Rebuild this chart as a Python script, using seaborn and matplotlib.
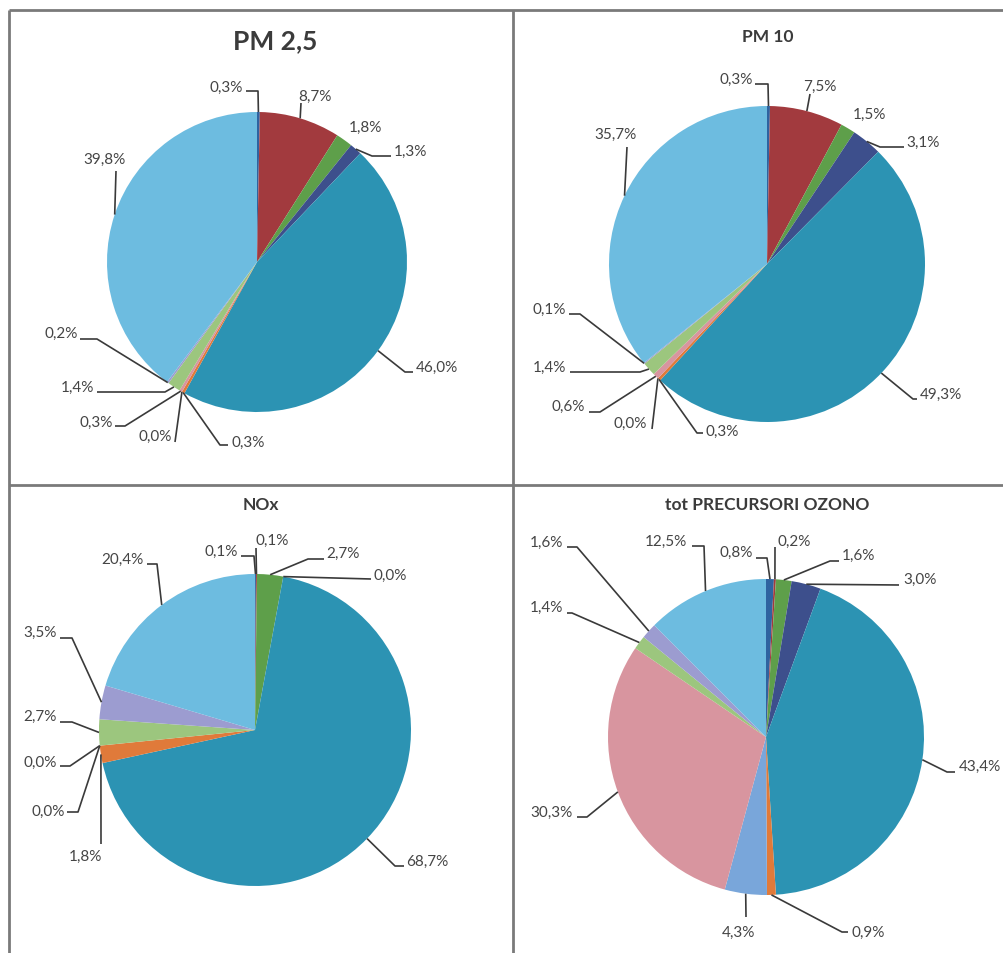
import matplotlib
matplotlib.use("Agg")
import matplotlib.pyplot as plt
import numpy as np
import seaborn as sns

# Emission shares (%) by source sector, clockwise from 12 o'clock
sectors = ["S1", "S2", "S3", "S4", "S5", "S6", "S7", "S8", "S9", "S10", "S11"]
pm25 = [0.3, 8.7, 1.8, 1.3, 46.0, 0.3, 0.0, 0.3, 1.4, 0.2, 39.8]
pm10 = [0.3, 7.5, 1.5, 3.1, 49.3, 0.3, 0.0, 0.6, 1.4, 0.1, 35.7]
nox = [0.1, 0.1, 2.7, 0.0, 68.7, 1.8, 0.0, 0.0, 2.7, 3.5, 20.4]
ozone = [0.8, 0.2, 1.6, 3.0, 43.4, 0.9, 4.3, 30.3, 1.4, 1.6, 12.5]
titles = ["PM 2,5", "PM 10", "NOx", "tot PRECURSORI OZONO"]

sns.set_theme(style="white")
plt.rcParams["font.family"] = ["Lato", "DejaVu Sans"]

palette = sns.color_palette([
    "#2f63a0", "#a23a3e", "#5e9f4a", "#3d4f8c", "#2c93b3", "#e07a3a",
    "#79a6da", "#d8959f", "#9cc67e", "#9c9cd0", "#6dbce0",
])

W, H = 1004, 954
fig = plt.figure(figsize=(W / 100, H / 100), dpi=100)
ax = fig.add_axes([0, 0, 1, 1])


def Y(y):
    """Convert a top-down pixel row to the upward data axis."""
    return H - y


# panel layout: pie centre, radius, title position and size
panels = [
    dict(values=pm25, center=(257, 263), r=150, title_xy=(275, 41), title_size=19),
    dict(values=pm10, center=(767, 265), r=158, title_xy=(768, 37), title_size=12.5),
    dict(values=nox, center=(255, 731), r=156, title_xy=(261, 505), title_size=12.5),
    dict(values=ozone, center=(766, 738), r=158, title_xy=(767, 505), title_size=12.5),
]

# label placement: text centre and leader-line waypoints after the slice anchor
label_layout = [
    [  # PM 2,5
        ((226, 88), [(258, 92), (246, 92)]),
        ((315, 97), [(301, 104)]),
        ((365, 128), []),
        ((410, 152), [(372, 157), (391, 157)]),
        ((437, 368), [(405, 373), (413, 373)]),
        ((248, 443), [(220, 446), (228, 446)]),
        ((155, 437), [(175, 443)]),
        ((96, 423), [(125, 427), (115, 427)]),
        ((77, 388), [(165, 393), (97, 393)]),
        ((61, 334), [(97, 340), (80, 340)]),
        ((104, 160), [(116, 172)]),
    ],
    [  # PM 10
        ((736, 80), [(768, 85), (755, 85)]),
        ((820, 87), [(810, 95)]),
        ((869, 115), []),
        ((923, 143), [(880, 148), (904, 148)]),
        ((941, 395), [(913, 400), (917, 400)]),
        ((722, 432), [(697, 434), (703, 434)]),
        ((630, 424), [(652, 430)]),
        ((568, 407), [(600, 413), (589, 413)]),
        ((549, 368), [(640, 373), (570, 373)]),
        ((549, 310), [(580, 315), (569, 315)]),
        ((615, 135), [(627, 148)]),
    ],
    [  # NOx
        ((221, 552), [(254, 557), (241, 557)]),
        ((272, 541), [(256, 549)]),
        ((343, 554), [(308, 560), (324, 560)]),
        ((390, 576), [(371, 580)]),
        ((427, 862), [(395, 867), (404, 867)]),
        ((85, 857), [(101, 845)]),
        ((48, 812), [(78, 813), (67, 813)]),
        ((40, 763), [(70, 767), (60, 767)]),
        ((40, 717), [(72, 723), (60, 723)]),
        ((40, 633), [(72, 639), (60, 639)]),
        ((122, 560), [(157, 565), (147, 565)]),
    ],
    [  # ozone precursors
        ((736, 553), [(767, 559), (756, 559)]),
        ((794, 542), [(775, 548)]),
        ((858, 556), [(830, 562), (839, 562)]),
        ((920, 580), [(899, 586)]),
        ((980, 767), [(947, 773), (955, 773)]),
        ((868, 933), [(842, 933), (848, 933)]),
        ((738, 933), [(746, 918)]),
        ((551, 813), [(587, 818), (577, 818)]),
        ((546, 608), [(572, 614), (567, 614)]),
        ((546, 543), [(577, 548), (567, 548)]),
        ((666, 542), [(704, 547), (692, 547)]),
    ],
]

text_color = "#454545"
line_color = "#3a3a3a"

for panel, title, layout in zip(panels, titles, label_layout):
    cx, cy = panel["center"]
    r = panel["r"]
    wedges, _ = ax.pie(
        panel["values"], colors=palette, startangle=90, counterclock=False,
        center=(cx, Y(cy)), radius=r, wedgeprops=dict(linewidth=0),
        frame=True,
    )
    tx, ty = panel["title_xy"]
    ax.text(tx, Y(ty), title, ha="center", va="center", fontsize=panel["title_size"],
            fontweight="bold", color="#3b3b3b")
    for wedge, value, ((lx, ly), pts) in zip(wedges, panel["values"], layout):
        # leader lines start on the rim at the slice's mid angle
        mid = np.deg2rad((wedge.theta1 + wedge.theta2) / 2)
        ax_x = cx + r * np.cos(mid)
        ax_y = Y(cy) + r * np.sin(mid)
        if pts:
            xs = [ax_x] + [p[0] for p in pts]
            ys = [ax_y] + [Y(p[1]) for p in pts]
            ax.plot(xs, ys, color=line_color, lw=1.2, solid_capstyle="butt")
        label = f"{value:.1f}%".replace(".", ",")
        ax.text(lx, Y(ly), label, ha="center", va="center", fontsize=11,
                color=text_color)

# table grid around the four charts
grid_kw = dict(color="#7a7a7a", lw=2, solid_capstyle="butt")
ax.plot([9, W], [Y(11), Y(11)], **grid_kw)
ax.plot([9, 9], [Y(11), 0], **grid_kw)
ax.plot([513, 513], [Y(11), 0], **grid_kw)
ax.plot([9, W], [Y(486), Y(486)], **grid_kw)

ax.set_xlim(0, W)
ax.set_ylim(0, H)
ax.set_aspect("auto")
ax.axis("off")

fig.savefig("out.png", dpi=100, facecolor="white")
